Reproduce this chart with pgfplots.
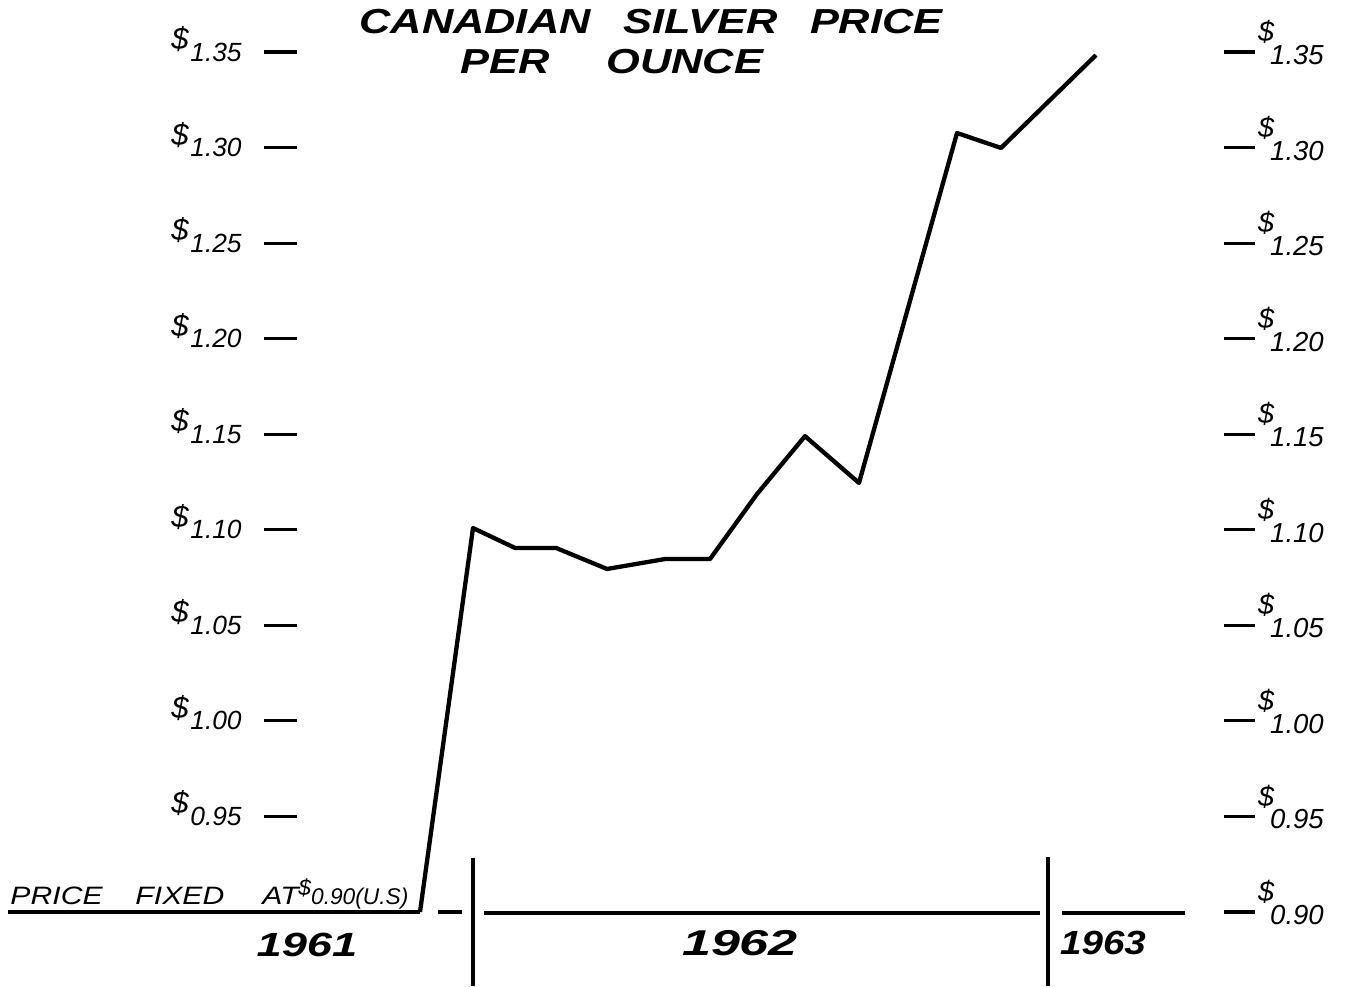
\documentclass[border=0pt]{standalone}
\usepackage{graphicx}
\usepackage{pgfplots}
\pgfplotsset{compat=1.18}
\usepackage{fontspec}
\setmainfont{Liberation Sans}
\begin{document}
\begin{tikzpicture}
\begin{axis}[
  scale only axis, width=20cm, height=14.479cm,
  xmin=0, xmax=1362, ymin=0.86128, ymax=1.37721,
  hide axis, clip=false,
]
\coordinate (BL) at (rel axis cs:0,0);
\coordinate (TR) at (rel axis cs:1,1);
% price line
\addplot[black, line width=1.8pt, line join=round] coordinates {
(420,0.900)(473,1.1009)(515,1.0905)(556,1.0905)(607,1.0795)(665,1.0847)(710,1.0847)
(757,1.1187)(805,1.149)(859,1.1245)(957,1.3076)(1001,1.2998)(1096,1.3484)};
% fixed price base line
\addplot[black, line width=1.3pt] coordinates {(8,0.90)(420,0.90)};
% year separators
\addplot[black, line width=1.3pt] coordinates {(438,0.90)(462,0.90)};
\addplot[black, line width=1.3pt] coordinates {(484,0.8995)(1040,0.8995)};
\addplot[black, line width=1.3pt] coordinates {(1062,0.8995)(1185,0.8995)};
\addplot[black, line width=1.5pt] coordinates {(473,0.9283)(473,0.86128)};
\addplot[black, line width=1.5pt] coordinates {(1048,0.9288)(1048,0.86128)};
% left scale
\pgfplotsinvokeforeach{0.95,1.00,1.05,1.10,1.15,1.20,1.25,1.30,1.35}{
  \draw[line width=1.3pt] (axis cs:264,#1) -- (axis cs:297,#1);
  \node[font=\itshape\fontsize{11pt}{13pt}\selectfont] at (axis cs:216,#1) {#1};
  \node[font=\itshape\fontsize{13pt}{15pt}\selectfont] at (axis cs:180,#1+0.0068) {\$};
}
% right scale
\pgfplotsinvokeforeach{0.90,0.95,1.00,1.05,1.10,1.15,1.20,1.25,1.30,1.35}{
  \draw[line width=1.3pt] (axis cs:1224,#1) -- (axis cs:1255,#1);
  \node[font=\itshape\fontsize{11.5pt}{13pt}\selectfont] at (axis cs:1297,#1-0.0016) {#1};
  \node[font=\itshape\fontsize{12pt}{14pt}\selectfont] at (axis cs:1266,#1+0.0105) {\$};
}
% title
\node[font=\bfseries\itshape\fontsize{14.5pt}{16pt}\selectfont] at (axis cs:651,1.3657)
  {\scalebox{1.25}[1]{CANADIAN\hspace{0.75em}SILVER\hspace{0.75em}PRICE}};
\node[font=\bfseries\itshape\fontsize{14.5pt}{16pt}\selectfont] at (axis cs:612,1.3448)
  {\scalebox{1.25}[1]{PER\hspace{1.3em}OUNCE}};
% fixed price note
\begin{scope}[every node/.style={anchor=base west, inner sep=0pt, font=\itshape\fontsize{10.5pt}{12pt}\selectfont}]
\node at (axis cs:10,0.9037) {\scalebox{1.2}[1]{PRICE}};
\node at (axis cs:135,0.9037) {\scalebox{1.2}[1]{FIXED}};
\node at (axis cs:262,0.9037) {\scalebox{1.2}[1]{AT}};
\node[font=\itshape\fontsize{9.5pt}{11pt}\selectfont] at (axis cs:298,0.9037) {\raisebox{0.8ex}{\$}0.90(U.S)};
\end{scope}
% years
\node[font=\bfseries\itshape\fontsize{14pt}{16pt}\selectfont] at (axis cs:307,0.8830) {\scalebox{1.35}[1]{1961}};
\node[font=\bfseries\itshape\fontsize{15pt}{17pt}\selectfont] at (axis cs:740,0.8838) {\scalebox{1.45}[1]{1962}};
\node[font=\bfseries\itshape\fontsize{14pt}{16pt}\selectfont] at (axis cs:1103,0.8838) {\scalebox{1.15}[1]{1963}};
\end{axis}
\pgfresetboundingbox
\path (BL) rectangle (TR);
\end{tikzpicture}
\end{document}
